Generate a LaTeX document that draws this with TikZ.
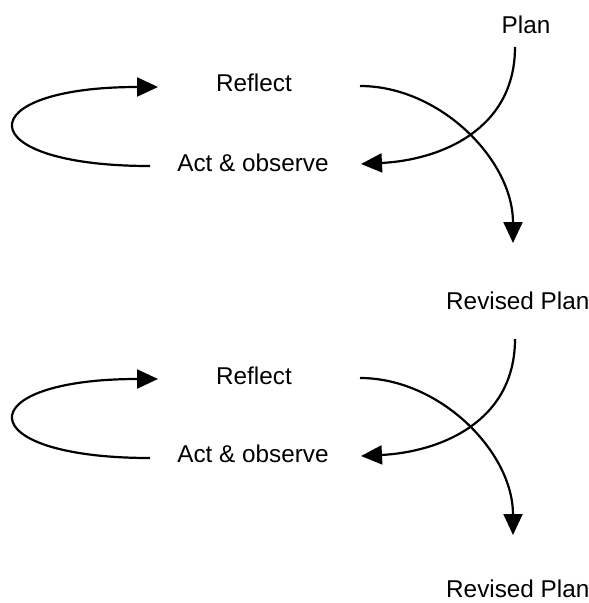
\documentclass[tikz,border=0pt]{standalone}
\usepackage{fontspec}
\setmainfont{Liberation Sans}
\usetikzlibrary{arrows.meta}
\begin{document}
\begin{tikzpicture}[x=1pt,y=-1pt,
  lbl/.style={inner sep=0pt,font=\fontsize{24.3}{27}\selectfont,anchor=base},
  conn/.style={line width=2.2pt,-{Triangle[length=21pt,width=19pt]}}]
\useasboundingbox (0,0) rectangle (589,603);
% ---- first cycle ----
\node[lbl] (plan) at (526,33) {Plan};
\node[lbl] (refl1) at (254,91) {Reflect};
\node[lbl] (act1) at (253,171) {Act \& observe};
\node[lbl,anchor=base west] (rev1) at (446,309) {Revised Plan};
\coordinate (p1s) at (515,47);
\coordinate (a1t) at (361,164);
\coordinate (a1s) at (150,166);
\coordinate (r1t) at (158,87);
\coordinate (r1s) at (360,86);
\coordinate (v1t) at (513,243);
\draw[conn] (p1s) .. controls (515,130) and (440,160) .. (a1t);
\draw[conn] (a1s) .. controls (-32,166) and (-32,87) .. (r1t);
\draw[conn] (r1s) .. controls (440,86) and (513,160) .. (v1t);
% ---- second cycle ----
\node[lbl] (refl2) at (254,384) {Reflect};
\node[lbl] (act2) at (253,462) {Act \& observe};
\node[lbl,anchor=base west] (rev2) at (446,597) {Revised Plan};
\coordinate (p2s) at (515,339);
\coordinate (a2t) at (361,456);
\coordinate (a2s) at (150,458);
\coordinate (r2t) at (158,379);
\coordinate (r2s) at (360,378);
\coordinate (v2t) at (513,535);
\draw[conn] (p2s) .. controls (515,422) and (440,452) .. (a2t);
\draw[conn] (a2s) .. controls (-32,458) and (-32,379) .. (r2t);
\draw[conn] (r2s) .. controls (440,378) and (513,452) .. (v2t);
\end{tikzpicture}
\end{document}
